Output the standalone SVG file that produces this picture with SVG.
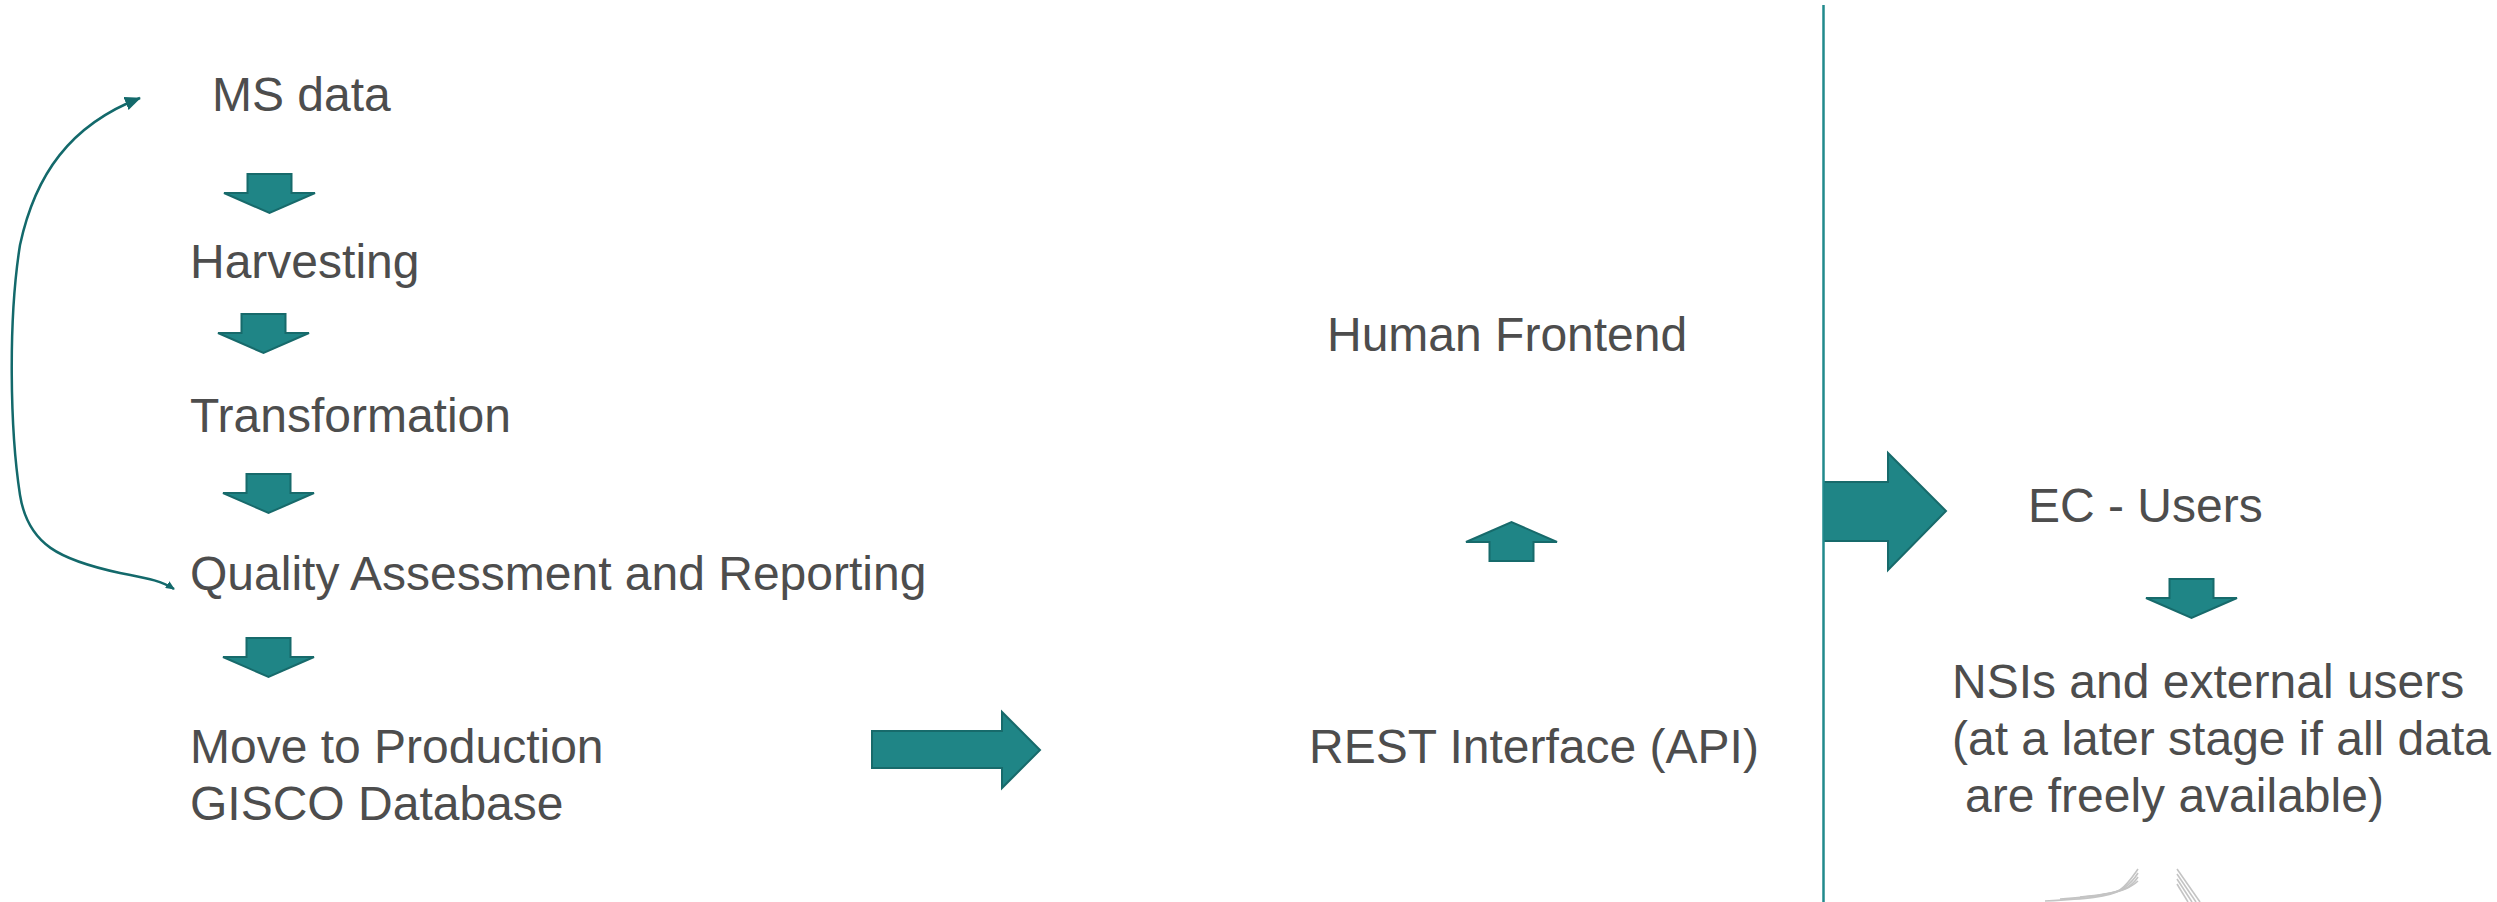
<svg xmlns="http://www.w3.org/2000/svg" xmlns:xlink="http://www.w3.org/1999/xlink" width="2497" height="902" viewBox="0 0 2497 902">
  <style>
    .lbl { font-family: "Liberation Sans", Arial, sans-serif; font-size: 48px; fill: #4d4d4d; }
    .blk { fill: #1f8586; stroke: #176a6b; stroke-width: 2; stroke-linejoin: miter; }
    .loop { fill: none; stroke: #13696b; stroke-width: 2.5; }
    .divider { stroke: #218a8c; stroke-width: 2.5; }
    .logo { fill: none; stroke: #c4c4c4; stroke-width: 1.6; }
  </style>
  <defs>
    <path id="down" d="M-22,0 H22 V19 H45.5 L0,39 L-45.5,19 H-22 Z"/>
    <marker id="headBig" markerUnits="userSpaceOnUse" markerWidth="18" markerHeight="14" refX="15" refY="7" orient="auto">
      <path d="M0,0 L16,7 L0,14 Z" fill="#13696b"/>
    </marker>
    <marker id="headSmall" markerUnits="userSpaceOnUse" markerWidth="10" markerHeight="8" refX="8" refY="4" orient="auto-start-reverse">
      <path d="M0,0 L9,4 L0,8 Z" fill="#13696b"/>
    </marker>
  </defs>

  <rect x="0" y="0" width="2497" height="902" fill="#ffffff"/>

  <g id="connectors">
    <path id="loop-back" class="loop" d="M174,589 C160,580 145,578 120,573 C60,560 28,545 20,495 C10,430 8,320 20,245 C35,175 70,125 140,98" marker-start="url(#headSmall)" marker-end="url(#headBig)"/>
    <use id="arr-ms-harv" class="blk" xlink:href="#down" href="#down" x="269.5" y="174"/>
    <use id="arr-harv-trans" class="blk" xlink:href="#down" href="#down" x="263.5" y="314"/>
    <use id="arr-trans-qa" class="blk" xlink:href="#down" href="#down" x="268.5" y="474"/>
    <use id="arr-qa-move" class="blk" xlink:href="#down" href="#down" x="268.5" y="638"/>
    <path id="arr-db-rest" class="blk" d="M872,731 H1002 V712 L1040,750 L1002,788 V768 H872 Z"/>
    <use id="arr-rest-human" class="blk" xlink:href="#down" href="#down" transform="translate(1511.5,561) scale(1,-1)"/>
    <path id="arr-to-ec" class="blk" d="M1824,482 H1888 V453 L1946,511 L1888,570 V541 H1824 Z"/>
    <use id="arr-ec-nsi" class="blk" xlink:href="#down" href="#down" x="2191.5" y="579"/>
  </g>

  <line id="divider" class="divider" x1="1823.5" y1="5" x2="1823.5" y2="902"/>

  <g id="ms-data"><text class="lbl" x="212" y="111">MS data</text></g>
  <g id="harvesting"><text class="lbl" x="190" y="278">Harvesting</text></g>
  <g id="transformation"><text class="lbl" x="190" y="432">Transformation</text></g>
  <g id="quality"><text class="lbl" x="190" y="590">Quality Assessment and Reporting</text></g>
  <g id="production">
    <text class="lbl" x="190" y="763">Move to Production</text>
    <text class="lbl" x="190" y="820">GISCO Database</text>
  </g>
  <g id="human-frontend"><text class="lbl" x="1327" y="351">Human Frontend</text></g>
  <g id="rest"><text class="lbl" x="1309" y="763">REST Interface (API)</text></g>
  <g id="ec-users"><text class="lbl" x="2028" y="522">EC - Users</text></g>
  <g id="nsi">
    <text class="lbl" x="1952" y="698">NSIs and external users</text>
    <text class="lbl" x="1952" y="755">(at a later stage if all data</text>
    <text class="lbl" x="1965" y="812">are freely available)</text>
  </g>

  <g id="logo-fragment">
    <path class="logo" d="M2045,901 C2085,899 2110,897 2120,890 C2128,884 2133,876 2138,869"/>
    <path class="logo" d="M2060,899 C2095,897 2115,894 2124,888 C2131,883 2135,878 2138,873"/>
    <path class="logo" d="M2080,897 C2105,895 2120,892 2128,887 C2133,884 2136,880 2138,877"/>
    <path class="logo" d="M2100,895 C2115,893 2126,890 2131,886 C2135,884 2137,882 2138,881"/>
    <path class="logo" d="M2177,869 L2200,902"/>
    <path class="logo" d="M2177,874 L2196,902"/>
    <path class="logo" d="M2177,879 L2192,902"/>
    <path class="logo" d="M2177,884 L2188,902"/>
  </g>
</svg>
